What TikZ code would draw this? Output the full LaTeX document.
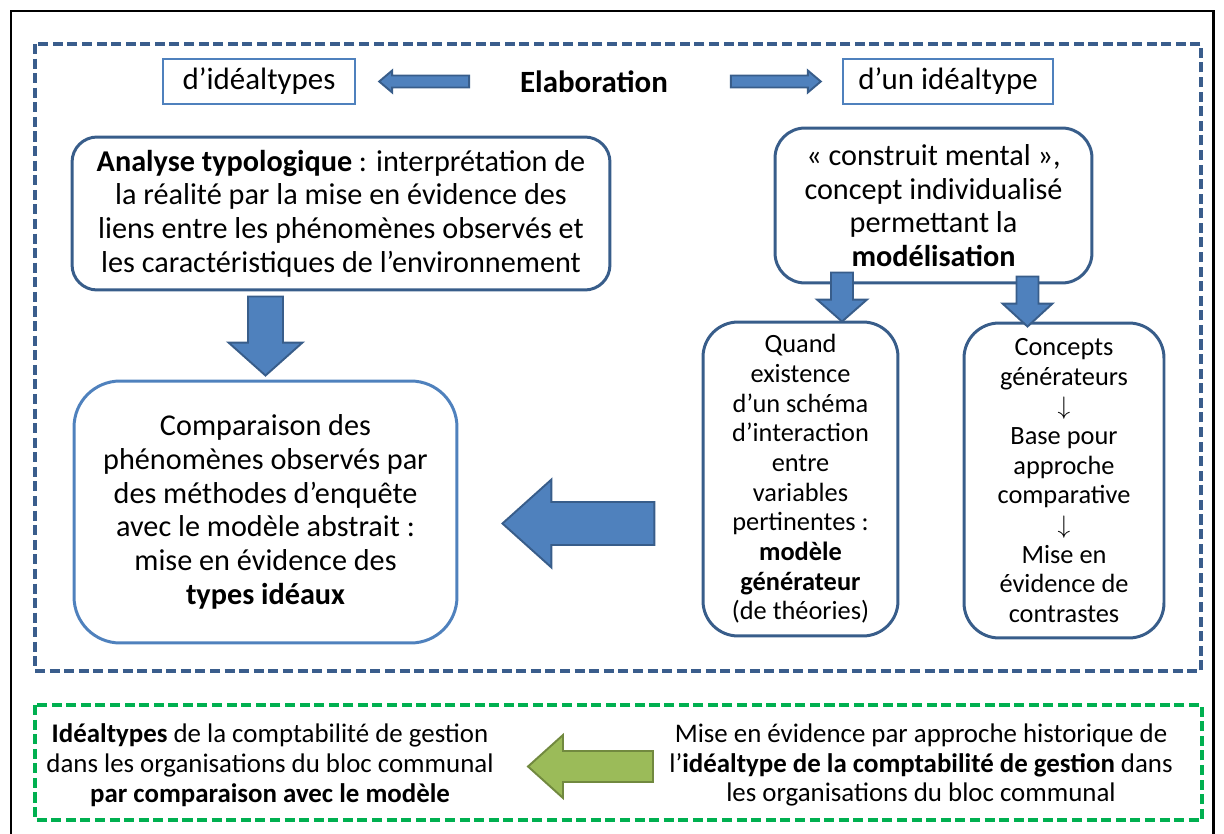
\documentclass[tikz,border=0pt]{standalone}
\usepackage{fontspec}
\setmainfont{Carlito}
\usepackage{tikz}
\usetikzlibrary{positioning,calc}

\definecolor{accent}{HTML}{4F81BD}
\definecolor{accentdk}{HTML}{385D8A}
\definecolor{frameblue}{HTML}{3A5D8C}
\definecolor{framegreen}{HTML}{00B050}
\definecolor{olive}{HTML}{9BBB59}
\definecolor{olivedk}{HTML}{71893F}

\tikzset{
  bigtxt/.style={font=\fontsize{17.2}{19.2}\selectfont},
  smalltxt/.style={font=\fontsize{15}{16.9}\selectfont},
  greentxt/.style={font=\fontsize{15.3}{16.9}\selectfont},
  labelbox/.style={draw=accent, line width=1.4pt, font=\fontsize{17.6}{19.2}\selectfont, inner sep=0pt},
  roundbox/.style={draw=accentdk, line width=1.7pt, align=center, inner sep=0pt},
  dashframe/.style={line width=2pt, dash pattern=on 5.7pt off 2.6pt},
  bluearrow/.style={fill=accent, draw=accentdk, line width=1.1pt},
  greenarrow/.style={fill=olive, draw=olivedk, line width=1.1pt}
}

% block arrow: style, tail, tip, half shaft, half head, head length
\newcommand{\blkarrow}[6]{%
  \coordinate (hb) at ($(#3)!#6!(#2)$);
  \draw[#1] ($(#2)!#4!90:(#3)$) -- ($(hb)!#4!90:(#3)$) -- ($(hb)!#5!90:(#3)$)
    -- (#3) -- ($(hb)!#5!-90:(#3)$) -- ($(hb)!#4!-90:(#3)$)
    -- ($(#2)!#4!-90:(#3)$) -- cycle;
}

\begin{document}
\begin{tikzpicture}[x=0.02cm, y=-0.02cm]
\useasboundingbox (0,0) rectangle (1224,834);

% Outer border and frames
\draw[line width=1.7pt] (11,11) rectangle (1213,850);
\draw[dashframe, frameblue] (35,44) rectangle (1201,671);
\draw[dashframe, framegreen] (35,705) rectangle (1202,820);

% Title line
\node[labelbox, minimum width=3.84cm, minimum height=0.9cm] (typs) at (259,81.5) {d’idéaltypes};
\node[labelbox, minimum width=4.2cm, minimum height=0.9cm] (typ) at (948,81.5) {d’un idéaltype};
\node[font=\fontsize{17.6}{19.2}\selectfont\bfseries] (elab) at (594,82) {Elaboration};

% Boxes
\node[roundbox, bigtxt, rounded corners=0.5cm, minimum width=10.76cm, minimum height=3.06cm] (ana) at (341,213.5)
  {\textbf{Analyse typologique} : interprétation de\\la réalité par la mise en évidence des\\liens entre les phénomènes observés et\\les caractéristiques de l’environnement};
\node[roundbox, bigtxt, rounded corners=0.6cm, minimum width=6.34cm, minimum height=3.1cm] (mod) at (933.5,205.5)
  {« construit mental »,\\concept individualisé\\permettant la\\\textbf{modélisation}};
\node[roundbox, smalltxt, rounded corners=0.7cm, minimum width=3.9cm, minimum height=6.28cm] (sub1) at (800.5,479)
  {Quand\\existence\\d’un schéma\\d’interaction\\entre\\variables\\pertinentes :\\\textbf{modèle}\\\textbf{générateur}\\(de théories)};
\node[roundbox, smalltxt, rounded corners=0.7cm, minimum width=4cm, minimum height=6.3cm] (sub2) at (1064,480.5)
  {Concepts\\générateurs\\$\downarrow$\\Base pour\\approche\\comparative\\$\downarrow$\\Mise en\\évidence de\\contrastes};
\node[roundbox, bigtxt, draw=accent, rounded corners=0.92cm, minimum width=7.66cm, minimum height=5.24cm] (cmp) at (265.5,512)
  {Comparaison des\\phénomènes observés par\\des méthodes d’enquête\\avec le modèle abstrait :\\mise en évidence des\\\textbf{types idéaux}};

% Bottom texts
\node[greentxt, align=center] (gl) at (270,765)
  {\textbf{Idéaltypes} de la comptabilité de gestion\\dans les organisations du bloc communal\\\textbf{par comparaison avec le modèle}};
\node[greentxt, align=center] (gr) at (921,765)
  {Mise en évidence par approche historique de\\l’\textbf{idéaltype de la comptabilité de gestion} dans\\les organisations du bloc communal};

% Arrows
\coordinate (e1) at ($(typs.east)+(23,0)$);
\coordinate (e1t) at ($(typs.east)+(113,0)$);
\blkarrow{bluearrow}{e1t}{e1}{0.12cm}{0.22cm}{0.26cm}
\coordinate (e2) at ($(typ.west)+(-21,0)$);
\coordinate (e2t) at ($(typ.west)+(-111,0)$);
\blkarrow{bluearrow}{e2t}{e2}{0.12cm}{0.22cm}{0.26cm}

\coordinate (d1) at ($(cmp.north)+(0,-4)$);
\coordinate (d1t) at ($(cmp.north |- ana.south)+(0,5)$);
\blkarrow{bluearrow}{d1t}{d1}{0.35cm}{0.74cm}{0.66cm}

\coordinate (d2) at ($(sub1.north)+(41.5,1)$);
\coordinate (d2t) at ($(d2 |- mod.south)+(0,-12)$);
\blkarrow{bluearrow}{d2t}{d2}{0.22cm}{0.5cm}{0.44cm}
\coordinate (d3) at ($(sub2.north)+(-36.5,5)$);
\coordinate (d3t) at ($(d3 |- mod.south)+(0,-8)$);
\blkarrow{bluearrow}{d3t}{d3}{0.22cm}{0.5cm}{0.46cm}

\coordinate (l1) at ($(cmp.east)+(44,11.5)$);
\coordinate (l1t) at ($(l1)+(152,0)$);
\blkarrow{bluearrow}{l1t}{l1}{0.43cm}{0.88cm}{0.98cm}

\coordinate (g1) at (528,766.5);
\coordinate (g1t) at (653,766.5);
\blkarrow{greenarrow}{g1t}{g1}{0.31cm}{0.63cm}{0.7cm}

\end{tikzpicture}
\end{document}
